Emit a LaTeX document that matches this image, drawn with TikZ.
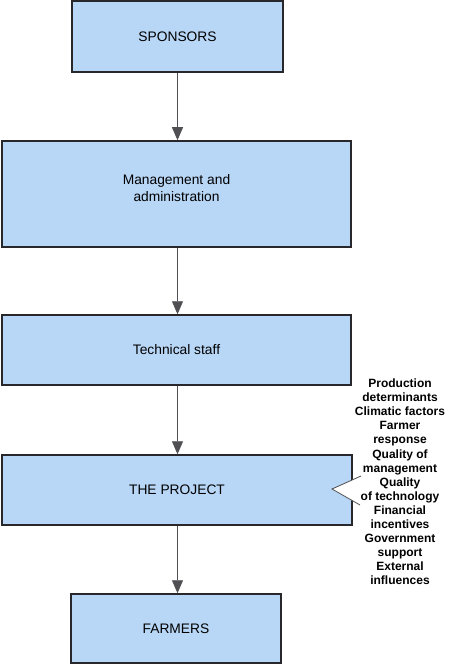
\documentclass[tikz,border=0pt]{standalone}
\usepackage{fontspec}
\setmainfont{Liberation Sans}
\usetikzlibrary{positioning,arrows.meta}
\definecolor{boxfill}{RGB}{184,214,246}
\definecolor{boxline}{RGB}{40,40,44}
\definecolor{flowline}{RGB}{80,80,84}
\begin{document}
\begin{tikzpicture}[x=1pt, y=-1pt,
  block/.style={draw=boxline, fill=boxfill, line width=1.5pt, align=center, inner sep=2pt, font=\fontsize{13.8}{17}\selectfont},
  flow/.style={-{Triangle[length=13pt, width=11pt]}, line width=0.9pt, draw=flowline, color=flowline},
  notch/.style={draw=black!70, line width=0.8pt}]
  \useasboundingbox (0,0) rectangle (450,666);
  \node[block, minimum width=211pt, minimum height=71pt] (sponsors) at (177.5,36.5) {SPONSORS};
  \node[block, minimum width=349pt, minimum height=106pt] (management) at (176.5,194) {};
  \node[align=center, font=\fontsize{13.8}{17}\selectfont] (managementtext) at ([yshift=6pt]management.center) {Management and\\administration};
  \node[block, minimum width=349pt, minimum height=70pt] (technical) at (176.5,350) {Technical staff};
  \node[block, minimum width=350pt, minimum height=70pt] (project) at (177,490) {THE PROJECT};
  \node[block, minimum width=210pt, minimum height=69pt] (farmers) at (176,628.5) {FARMERS};
  \foreach \a/\b in {sponsors/management,management/technical,technical/project,project/farmers}
    \draw[flow] (\a.south -| sponsors.south) -- (\b.north -| sponsors.south);
  \node[align=center, font=\bfseries\fontsize{12}{14.1}\selectfont, inner sep=0pt] (factors) at (400,482)
    {Production\\determinants\\Climatic factors\\Farmer\\response\\Quality of\\management\\Quality\\of technology\\Financial\\incentives\\Government\\support\\External\\influences};
  \coordinate (upper) at (361,476);
  \coordinate (tip) at (332,489);
  \coordinate (lower) at (360,505);
  \fill[white] (upper) -- (tip) -- (lower) -- cycle;
  \draw[notch] (upper) -- (tip) -- (lower);
\end{tikzpicture}
\end{document}
